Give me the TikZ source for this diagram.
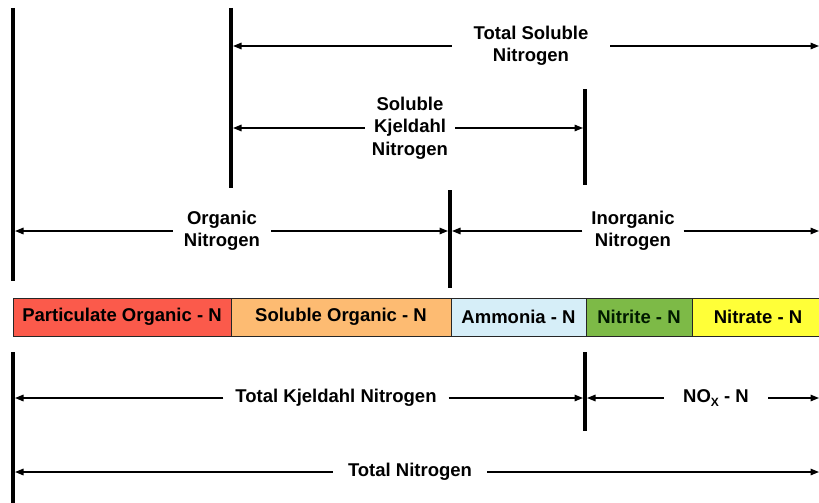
\documentclass[tikz,border=0pt]{standalone}
\usepackage{fontspec}
\setmainfont{Liberation Sans}
\usetikzlibrary{arrows.meta}
\definecolor{partred}{HTML}{FB5A4B}
\definecolor{solorange}{HTML}{FDBB72}
\definecolor{ammblue}{HTML}{D6EEF8}
\definecolor{nitgreen}{HTML}{7DBA47}
\definecolor{natyellow}{HTML}{FFFF38}
\begin{document}
\begin{tikzpicture}[x=1pt,y=-1pt,
  vbar/.style={line width=3.8pt},
  dimline/.style={line width=1.5pt,-{Triangle[length=8.5pt,width=6.5pt]}},
  lbl/.style={font=\bfseries\fontsize{18.5}{22.5}\selectfont,align=center,inner sep=0pt,minimum height=20pt},
  seg/.style={draw=black!85,line width=1pt,minimum height=38pt,inner sep=0pt,font=\bfseries\fontsize{18.5}{22}\selectfont}
]
\useasboundingbox (0,0) rectangle (819,503);
% bar
\node[seg,fill=partred,minimum width=218pt] (p) at (122,317) {Particulate Organic - N};
\node[seg,fill=solorange,minimum width=220pt] (so) at (341,317) {Soluble Organic - N};
\node[seg,fill=ammblue,minimum width=135pt] (am) at (518.5,317) {Ammonia - N};
\node[seg,fill=nitgreen,minimum width=106pt,text=black!90!green] (ni) at (639,317) {Nitrite - N};
\node[seg,fill=natyellow,minimum width=132pt] (na) at (758,317) {Nitrate - N};
% vertical lines
\coordinate (v1t) at (13,8);   \coordinate (v1b) at (13,281);
\coordinate (v2t) at (231,8);  \coordinate (v2b) at (231,188);
\coordinate (v3t) at (585,89); \coordinate (v3b) at (585,185);
\coordinate (v4t) at (450,190);\coordinate (v4b) at (450,288);
\coordinate (v5t) at (13,352); \coordinate (v5b) at (13,505);
\coordinate (v6t) at (585,352);\coordinate (v6b) at (585,431);
\foreach \a/\b in {v1t/v1b,v2t/v2b,v3t/v3b,v4t/v4b,v5t/v5b,v6t/v6b}
  \draw[vbar] (\a) -- (\b);
% arrow end points
\coordinate (tsnL) at (233,46);  \coordinate (tsnR) at (819,46);
\coordinate (sknL) at (233,128); \coordinate (sknR) at (583,128);
\coordinate (orgL) at (15,231);  \coordinate (orgR) at (448,231);
\coordinate (inoL) at (452,231); \coordinate (inoR) at (819,231);
\coordinate (tknL) at (15,398);  \coordinate (tknR) at (583,398);
\coordinate (noxL) at (587,398); \coordinate (noxR) at (819,398);
\coordinate (tnL) at (15,472);   \coordinate (tnR) at (819,472);
% labels
\node[lbl,minimum width=158pt] (tsn) at (531,46) {Total Soluble\\Nitrogen};
\node[lbl,minimum width=90pt] (skn) at (410,128) {Soluble\\Kjeldahl\\Nitrogen};
\node[lbl,minimum width=98pt] (org) at (222,231) {Organic\\Nitrogen};
\node[lbl,minimum width=101pt] (ino) at (633,231) {Inorganic\\Nitrogen};
\node[lbl,minimum width=225pt] (tkn) at (336,398) {Total Kjeldahl Nitrogen};
\node[lbl,minimum width=104pt] (nox) at (716,398) {NO\raisebox{-0.45ex}{\fontsize{12}{12}\selectfont X} - N};
\node[lbl,minimum width=154pt] (tn) at (410,472) {Total Nitrogen};
% dimension arrows
\foreach \n in {tsn,skn,org,ino,tkn,nox,tn}{
  \draw[dimline] (\n.west) -- (\n L);
  \draw[dimline] (\n.east) -- (\n R);
}
\end{tikzpicture}
\end{document}
